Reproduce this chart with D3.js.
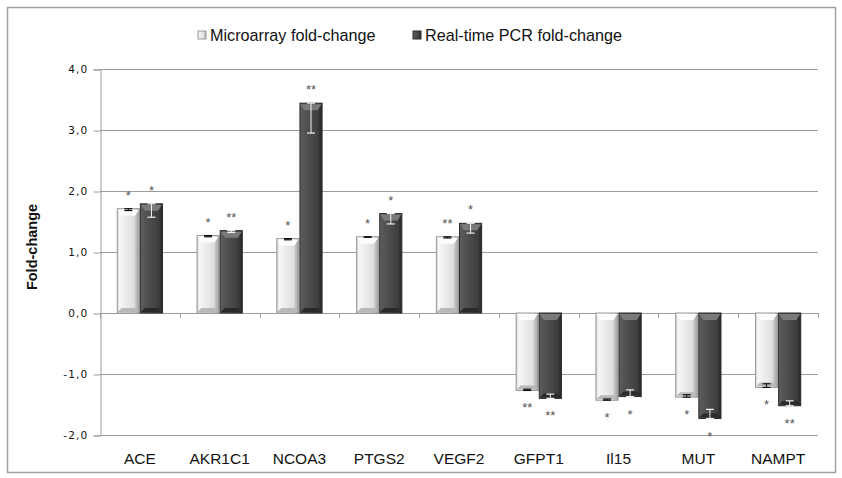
<!DOCTYPE html>
<html>
<head>
  <meta charset="utf-8">
  <script src="https://d3js.org/d3.v7.min.js"></script>
  <style>
    body { margin: 0; background: #fff; }
    text { font-family: "Liberation Sans", Arial, sans-serif; }
  </style>
</head>
<body>
<script>
  // chart values
  var genes = ["ACE", "AKR1C1", "NCOA3", "PTGS2", "VEGF2", "GFPT1", "Il15", "MUT", "NAMPT"];
  var seriesNames = ["Microarray fold-change", "Real-time PCR fold-change"];
  var microarray = [1.71, 1.27, 1.22, 1.25, 1.25, -1.27, -1.43, -1.38, -1.22];
  var pcr        = [1.79, 1.35, 3.44, 1.63, 1.47, -1.40, -1.37, -1.73, -1.52];
  var microErr   = [0.03, 0.02, 0.02, 0.01, 0.02, 0.02, 0.02, 0.04, 0.06];
  var pcrErr     = [0.22, 0.03, 0.49, 0.17, 0.16, 0.07, 0.11, 0.15, 0.08];
  var microStars = ["*", "*", "*", "*", "**", "**", "*", "*", "*"];
  var pcrStars   = ["*", "**", "**", "*", "*", "**", "*", "*", "**"];
  var yTicks = [-2, -1, 0, 1, 2, 3, 4];

  var W = 842, H = 478;
  // (not "top": that name is taken by window.top)
  var plotLeft = 100, plotRight = 818, plotTop = 69, plotBottom = 435;

  var svg = d3.select("body").append("svg")
      .attr("width", W).attr("height", H);

  var defs = svg.append("defs");
  function grad(id, stops) {
    var g = defs.append("linearGradient").attr("id", id)
        .attr("x1", "0%").attr("x2", "100%").attr("y1", "0%").attr("y2", "0%");
    stops.forEach(function(s) {
      g.append("stop").attr("offset", s[0]).attr("stop-color", s[1]);
    });
  }
  grad("gLight", [["0%", "#c9c9c9"], ["10%", "#f7f7f7"], ["40%", "#ececec"], ["76%", "#dedede"], ["86%", "#bdbdbd"], ["100%", "#9e9e9e"]]);
  grad("gDark", [["0%", "#616161"], ["12%", "#575757"], ["50%", "#4a4a4a"], ["82%", "#3e3e3e"], ["100%", "#262626"]]);

  // outer frame
  svg.append("rect")
    .attr("x", 7.5).attr("y", 7.5).attr("width", 828).attr("height", 465)
    .attr("fill", "#fff").attr("stroke", "#a3a3a3").attr("stroke-width", 1.5);

  var y = d3.scaleLinear().domain([-2, 4]).range([plotBottom, plotTop]);
  var x0 = d3.scaleBand().domain(genes).range([plotLeft, plotRight])
      .paddingInner(0.42).paddingOuter(0.21);
  var x1 = d3.scaleBand().domain([0, 1]).range([0, x0.bandwidth()]);

  // gridlines
  svg.append("g").selectAll("line").data(yTicks).join("line")
    .attr("x1", plotLeft).attr("x2", plotRight)
    .attr("y1", function(d) { return Math.round(y(d)) + 0.5; })
    .attr("y2", function(d) { return Math.round(y(d)) + 0.5; })
    .attr("stroke", "#9c9c9c").attr("stroke-width", 1);

  // y axis
  var yAxis = svg.append("g")
    .attr("transform", "translate(" + (plotLeft + 0.5) + ",0.5)")
    .call(d3.axisLeft(y).tickValues(yTicks).tickSize(7).tickPadding(5)
      .tickFormat(function(d) { return d3.format(".1f")(d).replace("−", "-").replace(".", ","); }));
  yAxis.select(".domain").attr("stroke", "#9c9c9c");
  yAxis.selectAll(".tick line").attr("stroke", "#9c9c9c");
  yAxis.selectAll(".tick text")
    .style("font-family", "'DejaVu Sans', Verdana, sans-serif")
    .style("font-size", "10.5px").style("letter-spacing", "1.2px").attr("fill", "#111");

  // category ticks on the zero line
  var step = x0.step();
  svg.append("g").selectAll("line").data(d3.range(genes.length + 1)).join("line")
    .attr("x1", function(i) { return Math.round(plotLeft + i * step) + 0.5; })
    .attr("x2", function(i) { return Math.round(plotLeft + i * step) + 0.5; })
    .attr("y1", y(0)).attr("y2", y(0) + 5)
    .attr("stroke", "#9c9c9c");

  // category labels at the bottom
  svg.append("g").selectAll("text").data(genes).join("text")
    .attr("x", function(d) { return x0(d) + x0.bandwidth() / 2; })
    .attr("y", 464)
    .attr("text-anchor", "middle")
    .style("font-size", "15.5px").attr("fill", "#111")
    .text(function(d) { return d; });

  // axis title
  svg.append("text")
    .attr("transform", "translate(37,247) rotate(-90)")
    .attr("text-anchor", "middle")
    .style("font-size", "14.5px").style("font-weight", "bold").attr("fill", "#111")
    .text("Fold-change");

  var rows = [];
  genes.forEach(function(g, i) {
    rows.push({gene: g, s: 0, v: microarray[i], e: microErr[i], star: microStars[i]});
    rows.push({gene: g, s: 1, v: pcr[i], e: pcrErr[i], star: pcrStars[i]});
  });

  var bw = x1.bandwidth();
  var bars = svg.append("g").selectAll("g").data(rows).join("g")
    .attr("transform", function(d) { return "translate(" + (x0(d.gene) + x1(d.s)) + ",0)"; });

  bars.append("rect")
    .attr("x", 0.5)
    .attr("y", function(d) { return y(Math.max(0, d.v)); })
    .attr("width", bw - 1)
    .attr("height", function(d) { return Math.abs(y(d.v) - y(0)); })
    .attr("fill", function(d) { return d.s ? "url(#gDark)" : "url(#gLight)"; })
    .attr("stroke", function(d) { return d.s ? "#2b2b2b" : "#9a9a9a"; })
    .attr("stroke-width", 1);

  // bevel at the top end of each bar
  bars.append("path")
    .attr("d", function(d) {
      var t = y(Math.max(0, d.v)) + 1;
      return "M1," + t + "L" + (bw - 1) + "," + t + "L" + (bw - 5) + "," + (t + 6) + "L5," + (t + 6) + "Z";
    })
    .attr("fill", function(d) { return d.s ? "#7a7a7a" : "#fdfdfd"; });
  // darker bevel at the bottom end
  bars.append("path")
    .attr("d", function(d) {
      var b = y(Math.min(0, d.v)) - 1;
      return "M1," + b + "L" + (bw - 1) + "," + b + "L" + (bw - 5) + "," + (b - 4) + "L5," + (b - 4) + "Z";
    })
    .attr("fill", function(d) { return d.s ? "#2a2a2a" : "#b8b8b8"; });

  // error bars toward zero
  bars.each(function(d) {
    var g = d3.select(this);
    var c = bw / 2;
    var ya = y(d.v);
    var yb = y(d.v > 0 ? d.v - d.e : d.v + d.e);
    var col = d.s ? "#f2f2f2" : "#111";
    g.append("line").attr("x1", c).attr("x2", c).attr("y1", ya).attr("y2", yb)
      .attr("stroke", col).attr("stroke-width", 1);
    g.append("line").attr("x1", c - 4).attr("x2", c + 4).attr("y1", ya).attr("y2", ya)
      .attr("stroke", col).attr("stroke-width", 1.2);
    g.append("line").attr("x1", c - 4).attr("x2", c + 4).attr("y1", yb).attr("y2", yb)
      .attr("stroke", col).attr("stroke-width", 1.2);
  });

  // significance asterisks
  bars.append("text")
    .attr("x", bw / 2)
    .attr("y", function(d) { return d.v > 0 ? y(d.v) - 9 : y(d.v) + 22; })
    .attr("text-anchor", "middle")
    .style("font-size", "13px").attr("fill", "#555")
    .text(function(d) { return d.star; });

  // legend
  var legX = [198, 413];
  var leg = svg.append("g").selectAll("g").data(seriesNames).join("g")
    .attr("transform", function(d, i) { return "translate(" + legX[i] + ",34)"; });
  leg.append("rect")
    .attr("x", 0).attr("y", -3).attr("width", 8).attr("height", 8)
    .attr("fill", function(d, i) { return i ? "url(#gDark)" : "url(#gLight)"; })
    .attr("stroke", function(d, i) { return i ? "#2b2b2b" : "#9a9a9a"; });
  leg.append("text")
    .attr("x", 12).attr("y", 6.5)
    .style("font-size", "16.2px").attr("fill", "#111")
    .text(function(d) { return d; });
</script>
</body>
</html>
